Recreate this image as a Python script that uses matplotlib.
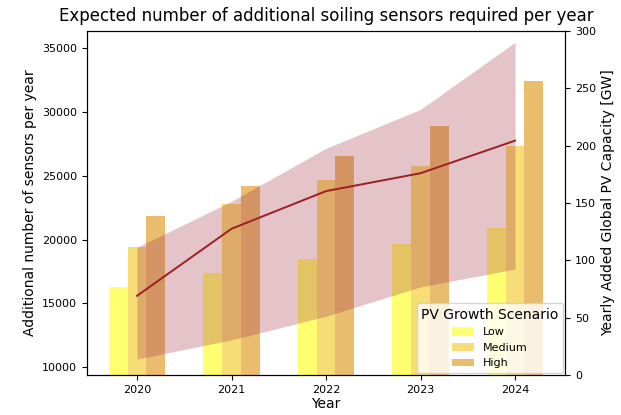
import numpy as np
import matplotlib
matplotlib.use("Agg")
import matplotlib.pyplot as plt

# Data
years = [2020, 2021, 2022, 2023, 2024]
sensors_mid = [15600, 20850, 23800, 25200, 27750]
sensors_low = [10650, 12150, 14000, 16300, 17700]
sensors_high = [19400, 23000, 27150, 30200, 35450]

pv_low = [77, 89, 101, 114, 128]
pv_medium = [112, 149, 170, 182, 200]
pv_high = [139, 165, 191, 217, 256]

fig = plt.figure(figsize=(6.21, 4.15), dpi=100)
ax = fig.add_axes([0.14, 0.0964, 0.77, 0.829])
ax2 = ax.twinx()

# Bars on the secondary axis (drawn underneath)
x = np.array(years)
w = 0.2
b1 = ax2.bar(x - w, pv_low, width=w, color="#ffff33", alpha=0.7, label="Low")
b2 = ax2.bar(x, pv_medium, width=w, color="#f3cf3a", alpha=0.7, label="Medium")
b3 = ax2.bar(x + w, pv_high, width=w, color="#e0a030", alpha=0.7, label="High")
ax2.set_ylim(0, 300)
ax2.set_ylabel("Yearly Added Global PV Capacity [GW]", fontsize=10)

# Sensors band and line on top
ax.set_zorder(ax2.get_zorder() + 1)
ax.patch.set_visible(False)
ax.fill_between(years, sensors_low, sensors_high, color="#a83a4e", alpha=0.3, lw=0)
ax.plot(years, sensors_mid, color="#9a2024", lw=1.4)
ax.set_ylim(9400, 36340)
ax.set_yticks([10000, 15000, 20000, 25000, 30000, 35000])
ax.set_xticks(years)
ax.set_ylabel("Additional number of sensors per year", fontsize=10)
ax.set_xlabel("Year", fontsize=10, labelpad=2)
ax.set_title("Expected number of additional soiling sensors required per year",
             fontsize=12, pad=7)

for a in (ax, ax2):
    a.tick_params(labelsize=8)

ax.legend(handles=[b1, b2, b3], title="PV Growth Scenario", loc="lower right",
          fontsize=8, title_fontsize=10, borderaxespad=0.2)

fig.savefig("out.png", dpi=100)
